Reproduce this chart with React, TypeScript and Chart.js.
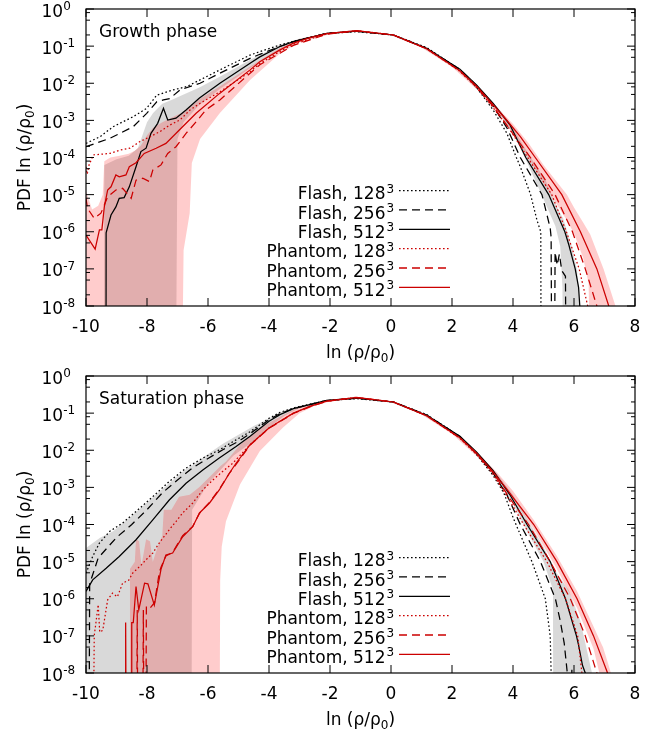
import React, { useEffect, useRef } from "react";
import { Chart, registerables } from "chart.js";

Chart.register(...registerables);

// ---------------- Growth phase (top panel) : x = ln(rho/rho0), values = log10(PDF) ----------------
const growthFlash128X = [-10, -9.54, -9.11, -8.45, -8.01, -7.68, -7.14, -6.7, -6.26, -5.61, -4.62, -4.3, -3.64, -3.2, -2.11, -1.13, 0.08, 1.17, 2.26, 2.81, 3.35, 3.8, 4.11, 4.24, 4.57, 4.79, 4.87, 4.91, 4.92];
const growthFlash128Log = [-3.62, -3.44, -3.17, -2.9, -2.675, -2.32, -2.18, -2.09, -1.91, -1.64, -1.24, -1.15, -0.97, -0.87, -0.66, -0.61, -0.7, -1.04, -1.63, -2.12, -2.72, -3.35, -4.0, -4.25, -4.98, -5.7, -5.9, -6.0, -10];

const growthFlash256X = [-10, -9.21, -8.45, -8.01, -7.68, -7.46, -7.25, -6.92, -6.26, -5.61, -4.62, -4.3, -3.64, -3.2, -2.11, -1.13, 0.08, 1.17, 2.26, 2.81, 3.35, 3.8, 4.24, 4.95, 5.22, 5.25, 5.27, 5.36, 5.38, 5.45, 5.52, 5.6, 5.72, 5.74];
const growthFlash256Log = [-3.71, -3.48, -3.17, -2.81, -2.5, -2.45, -2.41, -2.18, -2.0, -1.73, -1.33, -1.22, -1.01, -0.88, -0.655, -0.6, -0.7, -1.06, -1.63, -2.07, -2.62, -3.2, -4.0, -5.0, -5.9, -6.15, -10, -10, -6.55, -6.9, -6.6, -7.05, -7.2, -10];

const growthFlash512X = [-9.345, -9.34, -9.18, -9.02, -8.91, -8.75, -8.58, -8.36, -8.2, -8.03, -7.87, -7.65, -7.46, -7.32, -7.05, -6.72, -6.28, -5.61, -4.62, -4.3, -3.64, -3.2, -2.11, -1.13, 0.08, 1.17, 2.26, 2.81, 3.35, 3.9, 4.42, 5.17, 5.7, 5.83, 6.04, 6.15, 6.19, 6.22];
const growthFlash512Log = [-10, -6.03, -5.55, -5.33, -5.1, -5.08, -4.79, -4.25, -3.84, -3.75, -3.35, -3.08, -2.675, -2.99, -2.94, -2.72, -2.4, -2.0, -1.46, -1.29, -1.01, -0.88, -0.655, -0.595, -0.7, -1.06, -1.62, -2.05, -2.54, -3.12, -4.0, -5.0, -6.0, -6.35, -7.0, -7.5, -8.0, -8.5];

const growthPhantom128X = [-10, -9.96, -9.9, -9.76, -9.21, -8.88, -8.56, -8.23, -7.9, -7.57, -7.25, -6.92, -6.59, -6.26, -5.61, -4.62, -4.3, -3.64, -3.2, -2.11, -1.13, 0.08, 1.17, 2.26, 2.81, 3.35, 3.9, 4.48, 5.27, 5.75, 6.17, 6.45, 6.5];
const growthPhantom128Log = [-4.25, -4.45, -4.2, -3.93, -3.89, -3.8, -3.75, -3.57, -3.44, -3.3, -3.125, -2.99, -2.72, -2.54, -2.23, -1.69, -1.47, -1.14, -0.95, -0.67, -0.585, -0.7, -1.07, -1.68, -2.12, -2.66, -3.25, -4.0, -5.0, -6.0, -7.0, -8.0, -8.3];

const growthPhantom256X = [-10, -9.95, -9.73, -9.51, -9.29, -9.02, -8.8, -8.52, -8.36, -8.14, -7.92, -7.81, -7.54, -7.32, -7.05, -6.72, -6.39, -6.07, -5.61, -4.62, -4.3, -3.64, -3.2, -2.11, -1.13, 0.08, 1.17, 2.26, 2.81, 3.35, 3.9, 4.57, 5.38, 5.95, 6.37, 6.75, 6.8];
const growthPhantom256Log = [-5.1, -5.37, -5.64, -5.5, -5.06, -4.875, -4.83, -5.1, -4.61, -4.56, -4.65, -4.34, -4.2, -3.89, -3.71, -3.35, -3.04, -2.72, -2.45, -1.73, -1.5, -1.19, -0.98, -0.68, -0.59, -0.7, -1.07, -1.67, -2.1, -2.62, -3.25, -4.0, -5.0, -6.0, -7.0, -8.0, -8.3];

const growthPhantom512X = [-10, -9.7, -9.56, -9.48, -9.4, -9.29, -9.18, -9.02, -8.91, -8.69, -8.58, -8.36, -8.09, -7.7, -7.38, -6.94, -6.39, -5.63, -4.62, -4.3, -3.64, -3.2, -2.66, -2.11, -1.13, 0.08, 1.17, 2.26, 2.81, 3.35, 3.75, 4.24, 4.73, 5.6, 6.21, 6.75, 7.14, 7.25];
const growthPhantom512Log = [-6.09, -6.47, -5.95, -5.95, -5.33, -4.875, -4.79, -4.47, -4.52, -4.47, -4.25, -4.14, -3.89, -3.75, -3.62, -3.26, -2.81, -2.28, -1.64, -1.42, -1.1, -0.92, -0.77, -0.665, -0.58, -0.7, -1.07, -1.66, -2.08, -2.58, -2.95, -3.44, -4.0, -5.0, -6.0, -7.0, -8.0, -8.4];

const growthGreyX = [-9.42, -9.4, -9.0, -8.6, -8.3, -8.0, -7.8, -7.5, -7.2, -7.05, -7.0, -6.8, -6.3, -5.6, -4.6, -3.6, -3.0, -2.0, -1.0, 0, 1, 2, 3, 3.5, 4.0, 4.5, 5.06, 5.39, 5.55, 5.62, 5.64, 5.93, 6.1, 6.21, 6.22];
const growthGreyUpper = [-10, -4.2, -4.05, -3.95, -3.75, -3.05, -2.8, -2.55, -2.45, -2.4, -2.38, -2.3, -2.12, -1.82, -1.36, -0.95, -0.8, -0.63, -0.59, -0.69, -1.0, -1.48, -2.2, -2.66, -3.2, -3.9, -4.6, -5.23, -5.5, -5.6, -5.63, -6.4, -7.03, -8.2, -10];
const growthGreyLower = [-10, -10, -10, -10, -10, -10, -10, -10, -10, -10, -3.5, -3.05, -2.6, -2.15, -1.58, -1.07, -0.87, -0.67, -0.61, -0.71, -1.03, -1.52, -2.26, -2.74, -3.35, -4.2, -5.23, -5.85, -6.4, -7.5, -10, -10, -10, -10, -10];

const growthPinkX = [-10, -9.8, -9.6, -9.45, -9.4, -9.2, -8.9, -8.6, -8.4, -8.2, -8.0, -7.8, -7.5, -7.0, -6.85, -6.8, -6.6, -6.53, -6.26, -5.61, -4.62, -3.64, -3.0, -2.0, -1.0, 0, 1, 2, 3, 3.5, 4.0, 4.5, 5.0, 5.77, 6.0, 6.3, 6.48, 6.53, 6.97, 7.36, 7.38];
const growthPinkUpper = [-4.9, -5.4, -5.3, -5.0, -4.1, -4.0, -3.95, -3.9, -3.82, -3.68, -3.4, -3.2, -3.05, -2.85, -2.8, -2.76, -2.64, -2.6, -2.42, -2.08, -1.55, -1.05, -0.8, -0.63, -0.58, -0.69, -1.0, -1.5, -2.22, -2.66, -3.1, -3.6, -4.2, -5.0, -5.35, -5.75, -6.0, -6.07, -7.0, -8.0, -10];
const growthPinkLower = [-10, -10, -10, -10, -10, -10, -10, -10, -10, -10, -10, -10, -10, -10, -10, -6.5, -5.5, -4.15, -3.5, -2.8, -1.91, -1.2, -0.9, -0.68, -0.6, -0.71, -1.04, -1.56, -2.3, -2.8, -3.35, -4.0, -4.7, -5.7, -6.05, -6.7, -7.4, -10, -10, -10, -10];

// ---------------- Saturation phase (bottom panel) ----------------
const satFlash128X = [-10, -9.78, -9.56, -9.23, -8.8, -8.36, -7.81, -7.27, -6.72, -6.17, -5.63, -5.08, -4.62, -4.0, -3.64, -3.2, -2.66, -2.11, -1.13, 0.08, 1.17, 2.26, 2.81, 3.35, 3.7, 4.02, 4.62, 5.06, 5.22, 5.25, 5.26];
const satFlash128Log = [-5.31, -4.86, -4.5, -4.19, -3.96, -3.65, -3.25, -2.84, -2.48, -2.21, -1.99, -1.72, -1.5, -1.14, -0.98, -0.86, -0.76, -0.66, -0.61, -0.7, -1.04, -1.63, -2.12, -2.68, -3.15, -3.85, -5.0, -6.0, -7.0, -8.0, -8.3];

const satFlash256X = [-9.9, -9.88, -9.6, -9.0, -8.5, -8.0, -7.5, -7.0, -6.5, -6.0, -5.5, -5.0, -4.62, -4.0, -3.64, -3.2, -2.11, -1.13, 0.08, 1.17, 2.26, 2.81, 3.35, 3.8, 4.24, 4.9, 5.39, 5.55, 5.68, 5.78, 5.8, 5.9, 5.93, 5.96];
const satFlash256Log = [-10, -5.6, -4.9, -4.35, -4.0, -3.6, -3.15, -2.8, -2.47, -2.22, -1.98, -1.76, -1.55, -1.18, -1.01, -0.88, -0.66, -0.6, -0.7, -1.05, -1.63, -2.08, -2.62, -3.2, -4.0, -5.0, -6.0, -6.6, -7.2, -8.0, -10, -10, -7.85, -10];

const satFlash512X = [-10, -9.78, -9.34, -8.91, -8.36, -7.81, -7.27, -6.72, -6.17, -5.63, -5.08, -4.62, -4.0, -3.64, -3.2, -2.66, -2.11, -1.13, 0.08, 1.17, 2.26, 2.81, 3.35, 3.9, 4.46, 5.22, 5.72, 6.08, 6.15, 6.28, 6.37, 6.4];
const satFlash512Log = [-5.8, -5.49, -5.18, -4.86, -4.41, -3.875, -3.34, -2.89, -2.53, -2.21, -1.9, -1.62, -1.22, -1.04, -0.88, -0.77, -0.655, -0.595, -0.7, -1.06, -1.62, -2.05, -2.55, -3.2, -4.0, -5.0, -6.0, -7.0, -7.25, -7.8, -8.0, -8.3];

const satPhantom128X = [-9.76, -9.73, -9.6, -9.55, -9.45, -9.29, -9.13, -8.97, -8.8, -8.6, -8.47, -8.2, -8.03, -7.81, -7.6, -7.27, -7.05, -6.83, -6.5, -6.17, -5.84, -5.52, -5.19, -4.62, -4.0, -3.64, -3.2, -2.66, -2.11, -1.13, 0.08, 1.17, 2.26, 2.81, 3.35, 3.85, 4.35, 5.11, 5.72, 6.12, 6.26, 6.3];
const satPhantom128Log = [-10, -7.0, -6.16, -6.9, -6.85, -6.03, -5.85, -5.95, -5.58, -5.5, -5.31, -5.1, -4.95, -4.77, -4.5, -4.14, -3.92, -3.69, -3.42, -3.07, -2.8, -2.57, -2.35, -1.85, -1.4, -1.22, -1.0, -0.82, -0.68, -0.575, -0.7, -1.07, -1.68, -2.12, -2.65, -3.3, -4.0, -5.0, -6.0, -7.0, -8.0, -8.3];

const satPhantom256X = [-8.34, -8.32, -8.3, -8.14, -8.12, -8.1, -8.04, -8.02, -7.9, -7.75, -7.6, -7.54, -7.38, -7.16, -6.83, -6.5, -6.28, -5.95, -5.63, -5.3, -5.08, -4.62, -4.0, -3.64, -3.2, -2.66, -2.11, -1.13, 0.08, 1.17, 2.26, 2.81, 3.35, 3.9, 4.51, 5.22, 5.88, 6.37, 6.75, 6.8];
const satPhantom256Log = [-10, -6.3, -10, -10, -6.3, -10, -10, -6.2, -6.25, -6.1, -5.3, -5.15, -4.85, -4.75, -4.3, -4.05, -3.7, -3.4, -3.05, -2.62, -2.38, -1.86, -1.41, -1.23, -1.01, -0.83, -0.68, -0.58, -0.7, -1.07, -1.67, -2.1, -2.6, -3.3, -4.0, -5.0, -6.0, -7.0, -8.0, -8.3];

const satPhantom512X = [-8.72, -8.7, -8.68, -8.52, -8.5, -8.45, -8.36, -8.27, -8.08, -7.97, -7.76, -7.54, -7.38, -7.16, -6.83, -6.5, -6.28, -5.95, -5.63, -5.3, -5.08, -4.62, -4.0, -3.64, -3.2, -2.66, -2.11, -1.13, 0.08, 1.17, 2.26, 2.81, 3.35, 3.75, 4.68, 5.44, 6.1, 6.64, 7.1, 7.15];
const satPhantom512Log = [-10, -6.64, -10, -10, -6.64, -6.64, -5.67, -6.3, -5.58, -5.6, -6.17, -5.2, -4.82, -4.77, -4.33, -4.06, -3.69, -3.42, -3.07, -2.62, -2.35, -1.85, -1.4, -1.22, -1.0, -0.82, -0.675, -0.575, -0.7, -1.07, -1.66, -2.08, -2.58, -3.0, -4.0, -5.0, -6.0, -7.0, -8.0, -8.3];

const satGreyX = [-10, -9.54, -9.11, -8.45, -7.57, -6.81, -6.54, -6.52, -6.0, -5.5, -5.17, -4.5, -4.08, -3.5, -3.0, -2.0, -1.0, 0, 1, 2, 3, 3.5, 4.0, 4.5, 5.0, 5.31, 5.32, 5.83, 6.21, 6.59, 6.6];
const satGreyUpper = [-4.63, -4.36, -4.18, -3.73, -3.1, -2.56, -2.42, -2.41, -2.1, -1.82, -1.66, -1.35, -1.18, -0.93, -0.8, -0.63, -0.59, -0.69, -1.0, -1.48, -2.2, -2.66, -3.2, -3.9, -4.6, -5.15, -5.17, -5.77, -6.6, -8.0, -10];
const satGreyLower = [-10, -10, -10, -10, -10, -10, -10, -3.6, -2.9, -2.45, -2.15, -1.75, -1.45, -1.08, -0.86, -0.67, -0.61, -0.71, -1.03, -1.52, -2.26, -2.76, -3.45, -4.25, -5.0, -5.75, -10, -10, -10, -10, -10];

const satPinkX = [-8.58, -8.56, -8.4, -8.36, -8.26, -8.18, -8.03, -7.9, -7.81, -7.65, -7.5, -7.45, -7.2, -6.95, -6.6, -6.3, -5.62, -5.6, -5.55, -5.41, -4.95, -4.3, -3.54, -3.0, -2.5, -2.0, -1.0, 0, 1, 2, 3, 3.5, 4.0, 4.68, 5.44, 6.1, 6.64, 6.92, 6.95, 7.1, 7.21, 7.23];
const satPinkUpper = [-10, -5.2, -5.0, -4.4, -4.45, -5.1, -4.4, -4.45, -5.0, -4.6, -4.3, -3.6, -3.6, -3.25, -3.2, -3.0, -2.45, -2.43, -2.4, -2.3, -1.85, -1.4, -1.05, -0.83, -0.72, -0.63, -0.57, -0.69, -1.0, -1.5, -2.2, -2.62, -3.1, -3.88, -4.85, -5.8, -6.75, -7.25, -7.3, -7.7, -8.0, -10];
const satPinkLower = [-10, -10, -10, -10, -10, -10, -10, -10, -10, -10, -10, -10, -10, -10, -10, -10, -10, -5.5, -4.6, -3.91, -2.92, -2.02, -1.39, -1.0, -0.8, -0.69, -0.6, -0.71, -1.04, -1.56, -2.3, -2.75, -3.3, -4.12, -5.2, -6.25, -7.35, -8.3, -10, -10, -10, -10];

// ---------------- labels / ticks ----------------
const PANEL_TITLES = ["Growth phase", "Saturation phase"];
const LEGEND_NAMES = ["Flash, 128", "Flash, 256", "Flash, 512", "Phantom, 128", "Phantom, 256", "Phantom, 512"];
const LEGEND_SUP = "3";
const X_TICKS = [-10, -8, -6, -4, -2, 0, 2, 4, 6, 8];
const Y_EXPONENTS = [0, -1, -2, -3, -4, -5, -6, -7, -8];
const Y_MINOR_MANTISSAS = [2, 5, 8];

const FONT_FAMILY = '"DejaVu Sans", "Liberation Sans", sans-serif';
const FS = 17;
const FS_SMALL = 12;
const BLACK = "#000000";
const RED = "#cc0000";
const GREY_FILL = "rgba(0,0,0,0.15)";
const PINK_FILL = "rgba(255,0,0,0.2)";
const DOTTED = [1.6, 2.4];
const DASHED = [8, 5];
const SOLID: number[] = [];

type Line = { x: number[]; logPdf: number[]; color: string; dash: number[] };
type Band = { x: number[]; upper: number[]; lower: number[]; color: string };
type Run = { text: string; size: number; dy: number };

function pts(x: number[], l: number[]) {
  return x.map((v, i) => ({ x: v, y: Math.pow(10, l[i]) }));
}

function runsWidth(ctx: CanvasRenderingContext2D, runs: Run[]) {
  let w = 0;
  for (const r of runs) {
    ctx.font = `${r.size}px ${FONT_FAMILY}`;
    w += ctx.measureText(r.text).width;
  }
  return w;
}

function drawRuns(ctx: CanvasRenderingContext2D, runs: Run[], x: number, y: number, align: "left" | "right" | "center") {
  const w = runsWidth(ctx, runs);
  let cx = align === "left" ? x : align === "right" ? x - w : x - w / 2;
  ctx.textAlign = "left";
  ctx.textBaseline = "alphabetic";
  for (const r of runs) {
    ctx.font = `${r.size}px ${FONT_FAMILY}`;
    ctx.fillText(r.text, cx, y + r.dy);
    cx += ctx.measureText(r.text).width;
  }
}

function makeFramePlugin(title: string, lines: Line[]) {
  return {
    id: "gnuplotFrame",
    afterDraw(chart: any) {
      const ctx: CanvasRenderingContext2D = chart.ctx;
      const ca = chart.chartArea;
      const xs = chart.scales.x;
      const ys = chart.scales.y;
      ctx.save();
      ctx.setLineDash([]);
      ctx.strokeStyle = BLACK;
      ctx.fillStyle = BLACK;
      ctx.lineWidth = 1;
      ctx.beginPath();
      for (const v of X_TICKS) {
        const p = xs.getPixelForValue(v);
        ctx.moveTo(p, ca.bottom);
        ctx.lineTo(p, ca.bottom - 8);
        ctx.moveTo(p, ca.top);
        ctx.lineTo(p, ca.top + 8);
      }
      for (const e of Y_EXPONENTS) {
        const p = ys.getPixelForValue(Math.pow(10, e));
        ctx.moveTo(ca.left, p);
        ctx.lineTo(ca.left + 8, p);
        ctx.moveTo(ca.right, p);
        ctx.lineTo(ca.right - 8, p);
        if (e < 0) {
          for (const m of Y_MINOR_MANTISSAS) {
            const q = ys.getPixelForValue(m * Math.pow(10, e));
            ctx.moveTo(ca.left, q);
            ctx.lineTo(ca.left + 4, q);
            ctx.moveTo(ca.right, q);
            ctx.lineTo(ca.right - 4, q);
          }
        }
      }
      ctx.stroke();
      ctx.lineWidth = 1.2;
      ctx.strokeRect(ca.left, ca.top, ca.right - ca.left, ca.bottom - ca.top);

      // x tick labels
      for (const v of X_TICKS) {
        drawRuns(ctx, [{ text: String(v), size: FS, dy: 0 }], xs.getPixelForValue(v), ca.bottom + 26, "center");
      }
      // y tick labels
      for (const e of Y_EXPONENTS) {
        const p = ys.getPixelForValue(Math.pow(10, e));
        drawRuns(ctx, [{ text: "10", size: FS, dy: 0 }, { text: String(e), size: FS_SMALL, dy: -6.8 }], 41.5, p + 7.5, "left");
      }
      // axis titles
      drawRuns(
        ctx,
        [
          { text: "ln (ρ/ρ", size: FS, dy: 0 },
          { text: "0", size: FS_SMALL, dy: 4 },
          { text: ")", size: FS, dy: 0 },
        ],
        (ca.left + ca.right) / 2,
        ca.bottom + 52,
        "center"
      );
      ctx.save();
      ctx.translate(30, (ca.top + ca.bottom) / 2);
      ctx.rotate(-Math.PI / 2);
      drawRuns(
        ctx,
        [
          { text: "PDF ln (ρ/ρ", size: FS, dy: 0 },
          { text: "0", size: FS_SMALL, dy: 4 },
          { text: ")", size: FS, dy: 0 },
        ],
        0,
        0,
        "center"
      );
      ctx.restore();

      // panel title
      drawRuns(ctx, [{ text: title, size: FS, dy: 0 }], 99, ca.top + 27.5, "left");

      // legend
      lines.forEach((ln, i) => {
        const rowY = ca.top + 181.6 + i * 19.35;
        ctx.fillStyle = BLACK;
        drawRuns(ctx, [{ text: LEGEND_NAMES[i], size: FS, dy: 0 }], 385.5, rowY + 8.6, "right");
        drawRuns(ctx, [{ text: LEGEND_SUP, size: FS_SMALL, dy: 0 }], 386.5, rowY + 2, "left");
        ctx.save();
        ctx.strokeStyle = ln.color;
        ctx.lineWidth = 1.3;
        ctx.setLineDash(ln.dash);
        ctx.beginPath();
        ctx.moveTo(399, rowY);
        ctx.lineTo(450, rowY);
        ctx.stroke();
        ctx.restore();
      });
      ctx.restore();
    },
  };
}

function Panel(props: { title: string; lines: Line[]; bands: Band[]; padTop: number; padBottom: number }) {
  const ref = useRef<HTMLCanvasElement>(null);
  useEffect(() => {
    if (!ref.current) return;
    const datasets: any[] = [];
    for (const b of props.bands) {
      datasets.push({
        data: pts(b.x, b.upper),
        fill: "+1",
        backgroundColor: b.color,
        borderColor: "rgba(0,0,0,0)",
        borderWidth: 1,
        pointRadius: 0,
        tension: 0,
        order: 10,
      });
      datasets.push({
        data: pts(b.x, b.lower),
        fill: false,
        borderColor: "rgba(0,0,0,0)",
        borderWidth: 1,
        pointRadius: 0,
        tension: 0,
        order: 10,
      });
    }
    props.lines.forEach((ln, i) => {
      datasets.push({
        data: pts(ln.x, ln.logPdf),
        fill: false,
        borderColor: ln.color,
        borderDash: ln.dash,
        borderWidth: 1.25,
        borderCapStyle: "butt",
        pointRadius: 0,
        tension: 0,
        order: i < 3 ? 3 : 2,
      });
    });
    const chart = new Chart(ref.current, {
      type: "line",
      data: { datasets },
      options: {
        animation: false,
        responsive: false,
        devicePixelRatio: 1,
        events: [],
        layout: { padding: { left: 86, right: 29, top: props.padTop, bottom: props.padBottom } },
        scales: {
          x: { type: "linear", min: -10, max: 8, display: false },
          y: { type: "logarithmic", min: 1e-8, max: 1, display: false },
        },
        plugins: { legend: { display: false }, tooltip: { enabled: false } },
      },
      plugins: [makeFramePlugin(props.title, props.lines)],
    } as any);
    return () => chart.destroy();
  }, []);
  return <canvas ref={ref} width={664} height={368} style={{ display: "block", width: 664, height: 368 }} />;
}

const growthLines: Line[] = [
  { x: growthFlash128X, logPdf: growthFlash128Log, color: BLACK, dash: DOTTED },
  { x: growthFlash256X, logPdf: growthFlash256Log, color: BLACK, dash: DASHED },
  { x: growthFlash512X, logPdf: growthFlash512Log, color: BLACK, dash: SOLID },
  { x: growthPhantom128X, logPdf: growthPhantom128Log, color: RED, dash: DOTTED },
  { x: growthPhantom256X, logPdf: growthPhantom256Log, color: RED, dash: DASHED },
  { x: growthPhantom512X, logPdf: growthPhantom512Log, color: RED, dash: SOLID },
];
const growthBands: Band[] = [
  { x: growthPinkX, upper: growthPinkUpper, lower: growthPinkLower, color: PINK_FILL },
  { x: growthGreyX, upper: growthGreyUpper, lower: growthGreyLower, color: GREY_FILL },
];
const satLines: Line[] = [
  { x: satFlash128X, logPdf: satFlash128Log, color: BLACK, dash: DOTTED },
  { x: satFlash256X, logPdf: satFlash256Log, color: BLACK, dash: DASHED },
  { x: satFlash512X, logPdf: satFlash512Log, color: BLACK, dash: SOLID },
  { x: satPhantom128X, logPdf: satPhantom128Log, color: RED, dash: DOTTED },
  { x: satPhantom256X, logPdf: satPhantom256Log, color: RED, dash: DASHED },
  { x: satPhantom512X, logPdf: satPhantom512Log, color: RED, dash: SOLID },
];
const satBands: Band[] = [
  { x: satPinkX, upper: satPinkUpper, lower: satPinkLower, color: PINK_FILL },
  { x: satGreyX, upper: satGreyUpper, lower: satGreyLower, color: GREY_FILL },
];

export default function App() {
  return (
    <div style={{ position: "absolute", left: 0, top: 0, width: 664, height: 736, background: "#ffffff" }}>
      <Panel title={PANEL_TITLES[0]} lines={growthLines} bands={growthBands} padTop={9} padBottom={62} />
      <Panel title={PANEL_TITLES[1]} lines={satLines} bands={satBands} padTop={8} padBottom={63} />
    </div>
  );
}
